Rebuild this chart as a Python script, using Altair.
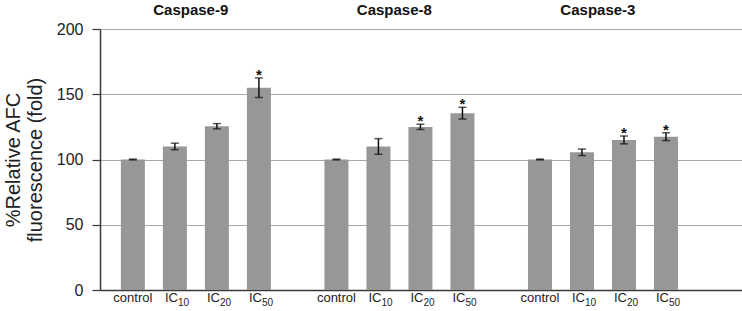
import altair as alt
import pandas as pd

groups = ["Caspase-9", "Caspase-8", "Caspase-3"]
conditions = ["control", "IC10", "IC20", "IC50"]
label_main = ["control", "IC", "IC", "IC"]
label_sub = ["", "10", "20", "50"]

casp9_mean = [100, 110, 125.5, 155]
casp9_err = [0.3, 2.5, 2, 7.5]
casp9_sig = [False, False, False, True]

casp8_mean = [100, 110, 125, 135.5]
casp8_err = [0.3, 6, 2, 4.5]
casp8_sig = [False, False, True, True]

casp3_mean = [100, 105.5, 115, 117.5]
casp3_err = [0.3, 2.5, 3, 3]
casp3_sig = [False, False, True, True]

rows = []
for g, means, errs, sigs in [
    ("Caspase-9", casp9_mean, casp9_err, casp9_sig),
    ("Caspase-8", casp8_mean, casp8_err, casp8_sig),
    ("Caspase-3", casp3_mean, casp3_err, casp3_sig),
]:
    for c, m, e, s, lm, ls in zip(conditions, means, errs, sigs, label_main, label_sub):
        rows.append({"group": g, "condition": c, "mean": m, "lo": m - e, "hi": m + e,
                     "sig": s, "main": lm, "sub": ls})
df = pd.DataFrame(rows)

FONT = "Liberation Sans"
DARK = "#3a3a3a"

x_enc = alt.X("group:N", sort=groups, title=None,
              scale=alt.Scale(paddingInner=0, paddingOuter=0.077, align=0),
              axis=alt.Axis(orient="top", ticks=False, tickSize=0, domain=False,
                            labelFontSize=15, labelFontWeight="bold", labelColor="#111",
                            labelAngle=0, labelPadding=15, labelBaseline="alphabetic",
                            labelOffset=-11, grid=False))
xo_enc = alt.XOffset("condition:N", sort=conditions,
                     scale=alt.Scale(paddingInner=0.4286, paddingOuter=0.637, align=0.39))

y_scale = alt.Scale(domain=[0, 200], nice=False)
y_axis = alt.Axis(values=[0, 50, 100, 150, 200], grid=True,
                  gridColor=alt.condition("datum.value === 0", alt.value(DARK), alt.value("#a8a8a8")),
                  gridWidth=alt.condition("datum.value === 0", alt.value(1.5), alt.value(1.2)),
                  domainColor=DARK, domainWidth=1.5, tickColor=DARK, tickWidth=1.2,
                  tickSize=8, labelPadding=9, labelFontSize=16, labelColor="#222",
                  title=["%Relative AFC", "fluorescence (fold)"], titleFontSize=20,
                  titleFontWeight="normal", titleColor="#222", titlePadding=11,
                  titleLineHeight=22)

base = alt.Chart(df).encode(x=x_enc, xOffset=xo_enc)

bars = base.mark_bar(color="#979797").encode(
    y=alt.Y("mean:Q", scale=y_scale, axis=y_axis))

err = base.mark_rule(color="#111", strokeWidth=1.5).encode(
    y=alt.Y("lo:Q", scale=y_scale, axis=y_axis), y2="hi:Q")
cap_lo = base.mark_tick(color="#111", thickness=1.5, size=8).encode(
    y=alt.Y("lo:Q", scale=y_scale, axis=y_axis))
cap_hi = base.mark_tick(color="#111", thickness=1.5, size=8).encode(
    y=alt.Y("hi:Q", scale=y_scale, axis=y_axis))

stars = base.transform_filter("datum.sig").mark_text(
    text="*", fontSize=15, fontWeight="bold", baseline="alphabetic", dy=2, color="#111",
    font=FONT).encode(y=alt.Y("hi:Q", scale=y_scale, axis=y_axis))

ctrl_lbl = base.transform_filter("datum.sub === ''").mark_text(
    fontSize=13, baseline="alphabetic", align="center", color="#222", font=FONT).encode(
    y=alt.value(273), text="main:N")
ic_lbl = base.transform_filter("datum.sub !== ''").mark_text(
    fontSize=13, baseline="alphabetic", align="right", dx=3, color="#222", font=FONT).encode(
    y=alt.value(273), text="main:N")
sub_lbl = base.transform_filter("datum.sub !== ''").mark_text(
    fontSize=10, baseline="alphabetic", align="left", dx=3, dy=4, color="#222", font=FONT).encode(
    y=alt.value(273), text="sub:N")

chart = alt.layer(bars, err, cap_lo, cap_hi, stars, ctrl_lbl, ic_lbl, sub_lbl).properties(
    width=642, height=261,
    autosize=alt.AutoSizeParams(type="none"),
    padding={"left": 100, "top": 29, "right": 0, "bottom": 21},
).configure_view(stroke=None).configure(font=FONT, background="white")

chart.save("out.html", embed_options={"renderer": "svg", "actions": False})
